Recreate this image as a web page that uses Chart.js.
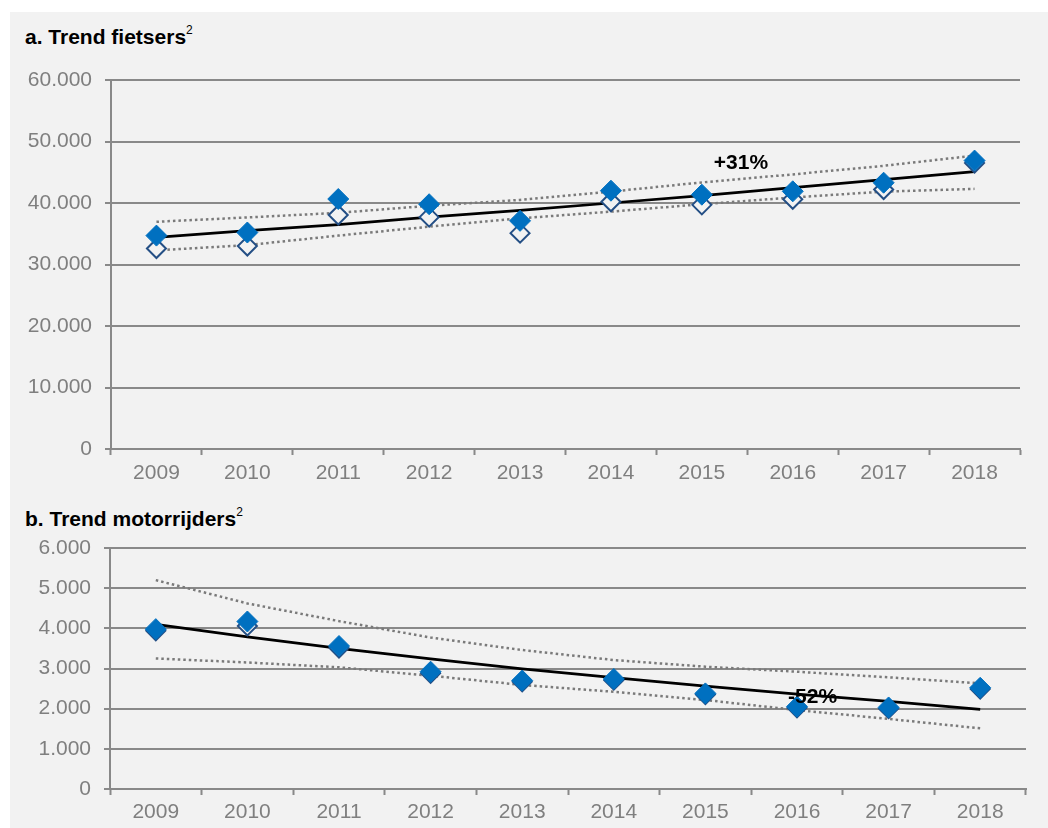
<!DOCTYPE html>
<html>
<head>
<meta charset="utf-8">
<script src="https://cdn.jsdelivr.net/npm/chart.js@4/dist/chart.umd.min.js"></script>
<style>
  body { margin: 0; background: #ffffff; font-family: Arial, "Liberation Sans", sans-serif; }
  #panel { position: absolute; left: 10px; top: 12px; width: 1038px; height: 816px; background: #f2f2f2; }
  .title { position: absolute; left: 25px; font: bold 21px Arial, "Liberation Sans", sans-serif; color: #000; line-height: 25px; }
  .title sup { font-weight: normal; font-size: 12px; position: relative; top: -2px; }
  canvas { position: absolute; left: 10px; }
</style>
</head>
<body>
<div id="panel"></div>
<div class="title" style="top:20px">a. Trend fietsers<sup>2</sup></div>
<div class="title" style="top:502px">b. Trend motorrijders<sup>2</sup></div>
<canvas id="fietsChart" width="1038" height="478" style="top:12px"></canvas>
<canvas id="motorChart" width="1038" height="338" style="top:490px"></canvas>
<script>
const years = ["2009", "2010", "2011", "2012", "2013", "2014", "2015", "2016", "2017", "2018"];

// fietsers
const fietsGewogen = [34700, 35200, 40650, 39800, 37100, 42000, 41350, 41900, 43300, 46900];
const fietsRuw = [32600, 33000, 38050, 37700, 35100, 40200, 39700, 40600, 42200, 46500];
const fietsTrend = [34400, 35500, 36500, 37700, 38800, 40000, 41200, 42500, 43800, 45100];
const fietsBovengrens = [36950, 37650, 38400, 39550, 40500, 41850, 43350, 44650, 46050, 47700];
const fietsOndergrens = [32300, 33150, 34700, 36150, 37500, 38600, 39800, 40900, 41850, 42300];
const fietsYTicks = ["0", "10.000", "20.000", "30.000", "40.000", "50.000", "60.000"];

// motorrijders
const motorGewogen = [3980, 4170, 3560, 2920, 2700, 2740, 2380, 2050, 2030, 2520];
const motorRuw = [3940, 4060, 3510, 2880, 2670, 2710, 2350, 2020, 2000, 2490];
const motorTrend = [4100, 3790, 3500, 3240, 2990, 2770, 2560, 2360, 2180, 1980];
const motorBovengrens = [5200, 4620, 4180, 3770, 3460, 3210, 3045, 2920, 2780, 2630];
const motorOndergrens = [3250, 3150, 3030, 2820, 2590, 2420, 2215, 1965, 1745, 1510];
const motorYTicks = ["0", "1.000", "2.000", "3.000", "4.000", "5.000", "6.000"];

// percentage labels: [category position, value, text]
const fietsLabel = [6.43, 46500, "+31%"];
const motorLabel = [7.17, 2290, "-52%"];

const grijs = "#898989";
const tickFont = { family: "Arial, 'Liberation Sans', sans-serif", size: 21 };

const changeLabelPlugin = {
    id: "changeLabel",
    afterDatasetsDraw(chart, args, opts) {
        const ctx = chart.ctx;
        const x = chart.scales.x.getPixelForValue(opts.pos[0]);
        const y = chart.scales.y.getPixelForValue(opts.pos[1]);
        ctx.save();
        ctx.font = "bold 21px Arial, 'Liberation Sans', sans-serif";
        ctx.fillStyle = "#000";
        ctx.textAlign = "center";
        ctx.textBaseline = "middle";
        ctx.fillText(opts.pos[2], x, y);
        ctx.restore();
    }
};

function makeChart(id, cfg) {
    const canvas = document.getElementById(id);
    const ctx = canvas.getContext("2d");

    const datasets = [
        {
            data: cfg.gewogen, order: 0, showLine: false,
            pointStyle: "rectRot", pointRadius: 10.5,
            backgroundColor: "#0070c0", borderColor: "#0070c0", pointBorderWidth: 1
        },
        {
            data: cfg.ruw, order: 1, showLine: false,
            pointStyle: "rectRot", pointRadius: 9.5,
            backgroundColor: "#f2f2f2", borderColor: "#244f85", pointBorderWidth: 2
        },
        {
            data: cfg.trend, order: 2, pointRadius: 0,
            borderColor: "#000000", borderWidth: 2.75, tension: 0
        },
        {
            data: cfg.boven, order: 3, pointRadius: 0,
            borderColor: "#7a7a7a", borderWidth: 2.5, borderDash: [2.5, 3]
        },
        {
            data: cfg.onder, order: 3, pointRadius: 0,
            borderColor: "#7a7a7a", borderWidth: 2.5, borderDash: [2.5, 3]
        }
    ];

    return new Chart(ctx, {
        type: "line",
        data: { labels: years, datasets: datasets },
        plugins: [changeLabelPlugin],
        options: {
            responsive: false,
            animation: false,
            layout: { padding: { top: cfg.top, right: cfg.right, left: 0, bottom: 0 } },
            plugins: {
                legend: { display: false },
                tooltip: { enabled: false },
                changeLabel: { pos: cfg.label }
            },
            scales: {
                x: {
                    offset: true,
                    grid: {
                        offset: true, drawOnChartArea: false, drawTicks: true,
                        tickLength: 6, tickColor: grijs, tickWidth: 2
                    },
                    border: { display: true, color: grijs, width: 2 },
                    ticks: { color: "#7f7f7f", font: tickFont, padding: cfg.xPad, maxRotation: 0 },
                    afterFit(scale) { scale.height = cfg.xHeight; }
                },
                y: {
                    min: 0,
                    max: cfg.max,
                    grid: { color: grijs, lineWidth: 2, tickLength: 6, tickColor: grijs },
                    border: { display: true, color: grijs, width: 2 },
                    ticks: {
                        stepSize: cfg.max / 6,
                        color: "#7f7f7f",
                        font: tickFont,
                        padding: 13,
                        callback: (v, i) => cfg.yTicks[i]
                    },
                    afterFit(scale) { scale.width = cfg.yWidth; }
                }
            }
        }
    });
}

makeChart("fietsChart", {
    gewogen: fietsGewogen, ruw: fietsRuw, trend: fietsTrend,
    boven: fietsBovengrens, onder: fietsOndergrens,
    yTicks: fietsYTicks, max: 60000, label: fietsLabel,
    top: 68, right: 28, yWidth: 101, xHeight: 41, xPad: 6
});

makeChart("motorChart", {
    gewogen: motorGewogen, ruw: motorRuw, trend: motorTrend,
    boven: motorBovengrens, onder: motorOndergrens,
    yTicks: motorYTicks, max: 6000, label: motorLabel,
    top: 58, right: 22, yWidth: 100, xHeight: 39, xPad: 5
});
</script>
</body>
</html>
